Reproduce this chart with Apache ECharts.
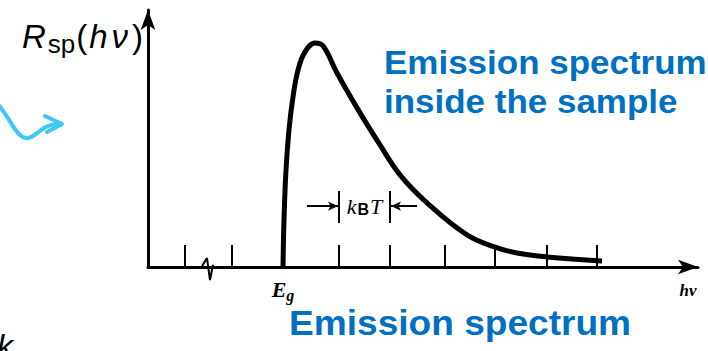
<!DOCTYPE html>
<html>
<head>
<meta charset="utf-8">
<script src="https://cdn.jsdelivr.net/npm/echarts@6/dist/echarts.min.js"></script>
<style>
  html, body { margin: 0; padding: 0; background: #fff; }
  #chart { width: 708px; height: 351px; }
</style>
</head>
<body>
<div id="chart"></div>
<script>
// 曲线数据 (hν 任意单位, 强度以峰值归一)
const curveX = [13.5, 13.6, 13.8, 14.1, 14.5, 15.0, 15.7, 16.7, 17.5, 18.9, 21.2, 23.2, 25.2, 27.9, 31.9, 34.7, 36.9, 39.9, 45.4];
const curveY = [0, 0.21, 0.433, 0.612, 0.759, 0.879, 0.960, 1.0, 0.987, 0.866, 0.688, 0.545, 0.411, 0.286, 0.143, 0.089, 0.0625, 0.045, 0.027];

// 坐标轴刻度位置
const tickValues = [3.7, 8.4, 19.1, 24.2, 29.7, 34.7, 39.9, 44.9];
const egValue = 13.5;
const hnuLabelValue = 54.0;

// 横轴断裂符号
const breakX = [5.4, 5.9, 6.2, 6.5];
const breakY = [0.004, 0.04, -0.058, 0.01];

// kBT 标注
const kbtLeft = 19.1;
const kbtRight = 24.2;
const kbtY = 0.272;
const kbtBar = [0.196, 0.339];

const chart = echarts.init(document.getElementById('chart'), null, { renderer: 'svg' });

const serif = 'Liberation Serif';
const sans = 'Liberation Sans';
const waveStyle = { stroke: '#3CC8F5', lineWidth: 4, fill: null, lineCap: 'round', lineJoin: 'round' };

chart.setOption({
    animation: false,
    grid: { left: 148, right: 10, top: 10, bottom: 84 },
    xAxis: {
        type: 'value',
        min: 0,
        max: 55.0,
        axisLine: {
            show: true,
            symbol: ['none', 'arrow'],
            symbolSize: [11, 20],
            lineStyle: { color: '#000', width: 3 }
        },
        axisTick: {
            show: true,
            inside: true,
            length: 22,
            customValues: tickValues,
            lineStyle: { color: '#000', width: 2 }
        },
        axisLabel: {
            show: true,
            customValues: [egValue, hnuLabelValue],
            margin: 9,
            formatter: (v) => (v === egValue ? '{e|E}{g|g}' : '{h|hν}'),
            rich: {
                e: { fontFamily: serif, fontStyle: 'italic', fontWeight: 'bold', fontSize: 22, color: '#000' },
                g: { fontFamily: serif, fontStyle: 'italic', fontWeight: 'bold', fontSize: 16, color: '#000', padding: [11, 0, 0, 0] },
                h: { fontFamily: serif, fontStyle: 'italic', fontWeight: 'bold', fontSize: 17, color: '#000', padding: [6, 0, 0, 0] }
            }
        },
        splitLine: { show: false }
    },
    yAxis: {
        type: 'value',
        min: 0,
        max: 1.147,
        name: '{r|R}{s|sp}{n|(}{h|h}{v|ν}{n|)}',
        nameLocation: 'end',
        nameGap: -26,
        nameTextStyle: {
            align: 'right',
            verticalAlign: 'middle',
            padding: [0, 5, 0, 0],
            rich: {
                r: { fontFamily: sans, fontStyle: 'italic', fontSize: 33, color: '#000' },
                h: { fontFamily: sans, fontStyle: 'italic', fontSize: 33, color: '#000', padding: [0, 1, 0, 2] },
                v: { fontFamily: sans, fontStyle: 'italic', fontSize: 33, color: '#000', padding: [0, 4, 0, 3] },
                s: { fontFamily: sans, fontSize: 26, color: '#000', padding: [16, 1, 0, 2] },
                n: { fontFamily: sans, fontSize: 33, color: '#000' }
            }
        },
        axisLine: {
            show: true,
            symbol: ['none', 'arrow'],
            symbolSize: [11, 20],
            lineStyle: { color: '#000', width: 3 }
        },
        axisTick: { show: false },
        axisLabel: { show: false },
        splitLine: { show: false }
    },
    series: [
        {
            name: 'Emission spectrum',
            type: 'line',
            data: curveX.map((x, i) => [x, curveY[i]]),
            smooth: 0.4,
            symbol: 'none',
            clip: false,
            lineStyle: { color: '#000', width: 5 },
            z: 5
        },
        {
            name: 'break',
            type: 'line',
            data: breakX.map((x, i) => [x, breakY[i]]),
            symbol: 'none',
            clip: false,
            lineStyle: { color: '#000', width: 2 },
            markLine: {
                silent: true,
                symbol: ['none', 'arrow'],
                symbolSize: [7, 10],
                label: { show: false },
                lineStyle: { color: '#000', width: 2, type: 'solid' },
                data: [
                    [{ coord: [kbtLeft - 3.2, kbtY] }, { coord: [kbtLeft - 0.1, kbtY] }],
                    [{ coord: [kbtRight + 2.7, kbtY] }, { coord: [kbtRight + 0.1, kbtY] }],
                    [{ coord: [kbtLeft, kbtBar[0]], symbol: 'none' }, { coord: [kbtLeft, kbtBar[1]], symbol: 'none' }],
                    [{ coord: [kbtRight, kbtBar[0]], symbol: 'none' }, { coord: [kbtRight, kbtBar[1]], symbol: 'none' }]
                ]
            },
            markPoint: {
                silent: true,
                symbol: 'rect',
                symbolSize: 0,
                itemStyle: { color: 'transparent' },
                data: [
                    {
                        coord: [(kbtLeft + kbtRight) / 2, kbtY],
                        label: {
                            show: true,
                            position: 'inside',
                            formatter: '{k|k}{b|B}{t|T}',
                            rich: {
                                k: { fontFamily: serif, fontStyle: 'italic', fontSize: 22, color: '#000' },
                                t: { fontFamily: serif, fontStyle: 'italic', fontSize: 22, color: '#000', padding: [0, 0, 0, 1] },
                                b: { fontFamily: sans, fontWeight: 'bold', fontSize: 16, color: '#000', padding: [7, 0, 0, 1] }
                            }
                        }
                    }
                ]
            }
        }
    ],
    graphic: [
        {
            type: 'text',
            left: 384,
            top: 43,
            scaleX: 1.06,
            style: {
                text: 'Emission spectrum\ninside the sample',
                fontFamily: sans,
                fontWeight: 'bold',
                fontSize: 33,
                lineHeight: 39,
                fill: '#0070C0'
            }
        },
        {
            type: 'text',
            left: 289,
            top: 305,
            scaleX: 1.06,
            style: {
                text: 'Emission spectrum',
                fontFamily: sans,
                fontWeight: 'bold',
                fontSize: 35,
                fill: '#0070C0'
            }
        },
        {
            type: 'text',
            left: -3,
            top: 330,
            style: {
                text: 'k',
                fontFamily: sans,
                fontStyle: 'italic',
                fontSize: 32,
                fill: '#000'
            }
        },
        {
            type: 'bezierCurve',
            shape: { x1: -6, y1: 100, cpx1: 8, cpy1: 112, cpx2: 16, cpy2: 140, x2: 28, y2: 138 },
            style: waveStyle
        },
        {
            type: 'bezierCurve',
            shape: { x1: 28, y1: 138, cpx1: 38, cpy1: 136, cpx2: 42, cpy2: 124, x2: 58, y2: 124 },
            style: waveStyle
        },
        {
            type: 'polyline',
            shape: { points: [[45, 116], [62, 124], [47, 132]] },
            style: waveStyle
        }
    ]
});

window.addEventListener('resize', () => chart.resize());
</script>
</body>
</html>
